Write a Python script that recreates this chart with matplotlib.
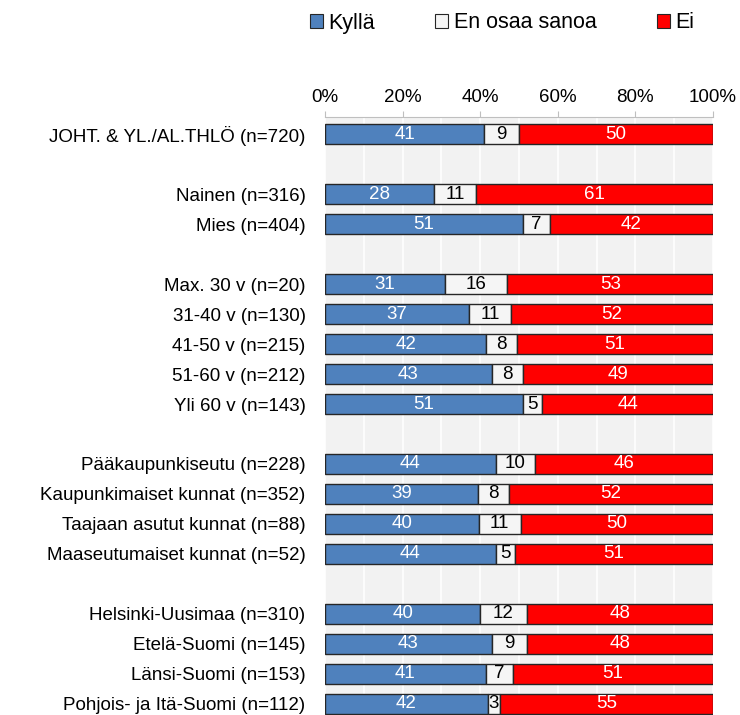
import matplotlib
matplotlib.use("Agg")
import matplotlib.pyplot as plt
from matplotlib.patches import Patch
import numpy as np

plt.rcParams['font.family'] = ['Liberation Sans', 'DejaVu Sans']

categories = [
    "JOHT. & YL./AL.THLÖ (n=720)", "",
    "Nainen (n=316)", "Mies (n=404)", "",
    "Max. 30 v (n=20)", "31-40 v (n=130)", "41-50 v (n=215)", "51-60 v (n=212)", "Yli 60 v (n=143)", "",
    "Pääkaupunkiseutu (n=228)", "Kaupunkimaiset kunnat (n=352)", "Taajaan asutut kunnat (n=88)", "Maaseutumaiset kunnat (n=52)", "",
    "Helsinki-Uusimaa (n=310)", "Etelä-Suomi (n=145)", "Länsi-Suomi (n=153)", "Pohjois- ja Itä-Suomi (n=112)",
]
kylla = [41, None, 28, 51, None, 31, 37, 42, 43, 51, None, 44, 39, 40, 44, None, 40, 43, 41, 42]
eos   = [9, None, 11, 7, None, 16, 11, 8, 8, 5, None, 10, 8, 11, 5, None, 12, 9, 7, 3]
ei    = [50, None, 61, 42, None, 53, 52, 51, 49, 44, None, 46, 52, 50, 51, None, 48, 48, 51, 55]
series_names = ["Kyllä", "En osaa sanoa", "Ei"]
colors = ["#4f81bd", "#f5f5f5", "#ff0000"]
text_colors = ["white", "black", "white"]
xticks = [0, 20, 40, 60, 80, 100]

fig = plt.figure(figsize=(7.4, 7.15), dpi=100)
ax = fig.add_axes([325/740, 0, 388/740, (715-117)/715])
ax.set_facecolor("#f2f2f2")

n = len(categories)
ypos = np.arange(n)
bar_h = 0.67
for i in range(n):
    if kylla[i] is None:
        continue
    vals = [kylla[i], eos[i], ei[i]]
    tot = sum(vals)
    left = 0.0
    for j, v in enumerate(vals):
        w = v / tot * 100
        ax.barh(i, w, left=left, height=bar_h, color=colors[j],
                edgecolor="#262626", linewidth=1.0, zorder=3)
        ax.text(left + w / 2, i, str(v), ha="center", va="center",
                color=text_colors[j], fontsize=13.5, zorder=4)
        left += w

ax.set_xlim(0, 100)
ax.set_ylim(19.37, -0.57)
ax.set_yticks(ypos)
ax.set_yticklabels(categories, fontsize=13.5)
ax.tick_params(axis='y', length=0, pad=14)
ax.xaxis.tick_top()
ax.set_xticks(xticks)
ax.set_xticklabels([f"{t}%" for t in xticks], fontsize=13.5)
ax.tick_params(axis='x', direction='out', length=4, color="#bfbfbf", pad=4)
ax.set_xticks(np.arange(0, 101, 10), minor=True)
ax.tick_params(axis='x', which='minor', length=0)
ax.grid(axis='x', which='both', color='white', linewidth=1.2, zorder=1)
ax.set_axisbelow(True)
for s in ['bottom', 'left', 'right']:
    ax.spines[s].set_visible(False)
ax.spines['top'].set_color("#bfbfbf")

handles = [Patch(facecolor=c, edgecolor="#262626", linewidth=0.8) for c in colors]
fig.legend(handles, series_names, loc="center", bbox_to_anchor=(502/740, 1 - 23/715),
           ncol=3, frameon=False, fontsize=15.5, handlelength=0.6, handleheight=0.6,
           handletextpad=0.25, columnspacing=2.8)

fig.savefig("out.png", dpi=100)
